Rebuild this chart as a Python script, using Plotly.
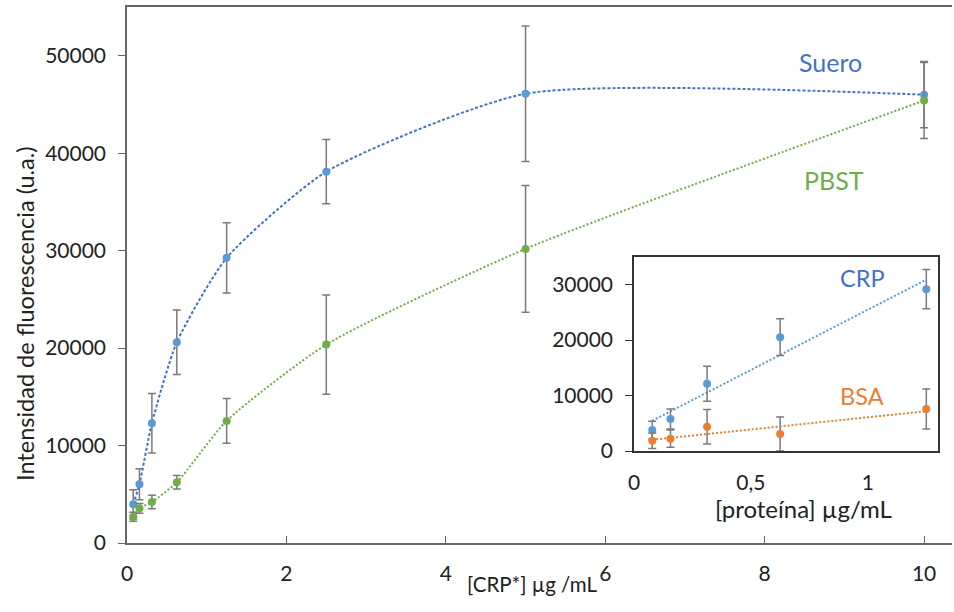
import numpy as np
import plotly.graph_objects as go

# ---------------- data ----------------
conc = [0.078, 0.156, 0.3125, 0.625, 1.25, 2.5, 5, 10]
suero = [3970, 6030, 12290, 20600, 29260, 38100, 46100, 46000]
suero_err = [1500, 1600, 3050, 3300, 3600, 3300, 6950, 3400]
pbst = [2700, 3560, 4210, 6230, 12530, 20360, 30180, 45400]
pbst_err = [460, 500, 700, 700, 2300, 5100, 6500, 3900]

prot = [0.078, 0.156, 0.3125, 0.625, 1.25]
crp = [3780, 5770, 12130, 20540, 29200]
crp_err = [1600, 1800, 3150, 3300, 3550]
bsa = [1860, 2220, 4380, 3060, 7570]
bsa_err = [1400, 1550, 3100, 3060, 3600]

main_xticks = [0, 2, 4, 6, 8, 10]
main_yticks = [0, 10000, 20000, 30000, 40000, 50000]
inset_xticks = [0, 0.5, 1]
inset_xticklabels = ["0", "0,5", "1"]
inset_yticks = [0, 10000, 20000, 30000]

W, H = 954, 612
FONT = "Lato"
BLUE_M = "#5B9BD5"
BLUE_L = "#4472C4"
GREEN = "#70AD47"
ORANGE = "#ED7D31"
ERR = "#7a7a7a"


def px_x(p):
    return p / W


def px_y(p):
    return 1 - p / H


fig = go.Figure()

# main curves (smoothed line through points)
fig.add_trace(go.Scatter(x=conc, y=suero, mode="lines", line=dict(color=BLUE_L, width=2, dash="3px,2px", shape="spline", smoothing=0.6),
                         xaxis="x", yaxis="y", hoverinfo="skip", showlegend=False))
fig.add_trace(go.Scatter(x=conc, y=pbst, mode="lines", line=dict(color=GREEN, width=2, dash="2px,2px", shape="spline", smoothing=0.6),
                         xaxis="x", yaxis="y", hoverinfo="skip", showlegend=False))
fig.add_trace(go.Scatter(x=conc, y=suero, mode="markers", marker=dict(color=BLUE_M, size=8),
                         error_y=dict(type="data", array=suero_err, color=ERR, thickness=1.5, width=4),
                         xaxis="x", yaxis="y", name="Suero", showlegend=False))
fig.add_trace(go.Scatter(x=conc, y=pbst, mode="markers", marker=dict(color=GREEN, size=8),
                         error_y=dict(type="data", array=pbst_err, color=ERR, thickness=1.5, width=4),
                         xaxis="x", yaxis="y", name="PBST", showlegend=False))

# inset linear trendlines
for yv, col in ((crp, BLUE_M), (bsa, ORANGE)):
    k, b = np.polyfit(prot, yv, 1)
    xs = [min(prot), max(prot)]
    fig.add_trace(go.Scatter(x=xs, y=[k * v + b for v in xs], mode="lines",
                             line=dict(color=col, width=2, dash="2px,2px"),
                             xaxis="x2", yaxis="y2", hoverinfo="skip", showlegend=False))

fig.add_trace(go.Scatter(x=prot, y=crp, mode="markers", marker=dict(color=BLUE_M, size=8),
                         error_y=dict(type="data", array=crp_err, color=ERR, thickness=1.5, width=4),
                         xaxis="x2", yaxis="y2", name="CRP", showlegend=False))
fig.add_trace(go.Scatter(x=prot, y=bsa, mode="markers", marker=dict(color=ORANGE, size=8),
                         error_y=dict(type="data", array=bsa_err, color=ERR, thickness=1.5, width=4),
                         xaxis="x2", yaxis="y2", name="BSA", showlegend=False))

tickfont = dict(family=FONT, size=21, color="#222222")

fig.update_layout(
    width=W, height=H,
    margin=dict(l=0, r=0, t=0, b=0, autoexpand=False),
    paper_bgcolor="white", plot_bgcolor="white",
    font=dict(family=FONT, color="#222222"),
    xaxis=dict(domain=[px_x(127), px_x(952)], range=[0, 10.35], tickvals=main_xticks,
               showgrid=False, zeroline=False, showline=True, linecolor="#666666", linewidth=1.5,
               mirror=True, ticks="inside", ticklen=7, tickcolor="#666666", tickfont=tickfont,
               ticklabelstandoff=11, anchor="y", automargin=False),
    yaxis=dict(domain=[px_y(543), px_y(7)], range=[0, 55000], tickvals=main_yticks,
               tickformat="d",
               showgrid=False, zeroline=False, showline=True, linecolor="#666666", linewidth=1.5,
               ticks="outside", ticklen=7, tickcolor="#666666", tickfont=tickfont,
               ticklabelstandoff=8, anchor="x", automargin=False),
    xaxis2=dict(domain=[px_x(634), px_x(938)], range=[0, 1.3], tickvals=inset_xticks,
                ticktext=inset_xticklabels, showgrid=False, zeroline=False, showline=True,
                linecolor="#333333", linewidth=1.5, mirror=True, ticks="", tickfont=tickfont,
                ticklabelstandoff=12, anchor="y2", automargin=False),
    yaxis2=dict(domain=[px_y(451), px_y(257)], range=[0, 35000], tickvals=inset_yticks,
                tickformat="d",
                showgrid=False, zeroline=False, showline=True, linecolor="#333333", linewidth=1.5,
                mirror=True, ticks="outside", ticklen=7, tickcolor="#333333", tickfont=tickfont,
                ticklabelstandoff=8, anchor="x2", automargin=False),
)

ann = [
    dict(text="Intensidad de fluorescencia (u.a.)", x=px_x(25), y=px_y(314), textangle=-90, size=23.5, color="#222222"),
    dict(text="[CRP*] µg /mL", x=px_x(532), y=px_y(584), textangle=0, size=20.5, color="#222222"),
    dict(text="[proteína] µg/mL", x=px_x(803), y=px_y(508), textangle=0, size=24, color="#222222"),
    dict(text="Suero", x=px_x(830), y=px_y(62), textangle=0, size=25, color=BLUE_L),
    dict(text="PBST", x=px_x(834), y=px_y(180), textangle=0, size=25, color=GREEN),
    dict(text="CRP", x=px_x(862), y=px_y(278), textangle=0, size=23.5, color=BLUE_L),
    dict(text="BSA", x=px_x(862), y=px_y(396), textangle=0, size=23.5, color=ORANGE),
]
for a in ann:
    fig.add_annotation(text=a["text"], x=a["x"], y=a["y"], xref="paper", yref="paper",
                       xanchor="center", yanchor="middle", showarrow=False, textangle=a["textangle"],
                       font=dict(family=FONT, size=a["size"], color=a["color"]))

fig.write_html("out.html", config={"displayModeBar": False},
               post_script="document.body.style.margin='0';document.body.style.padding='0';")
